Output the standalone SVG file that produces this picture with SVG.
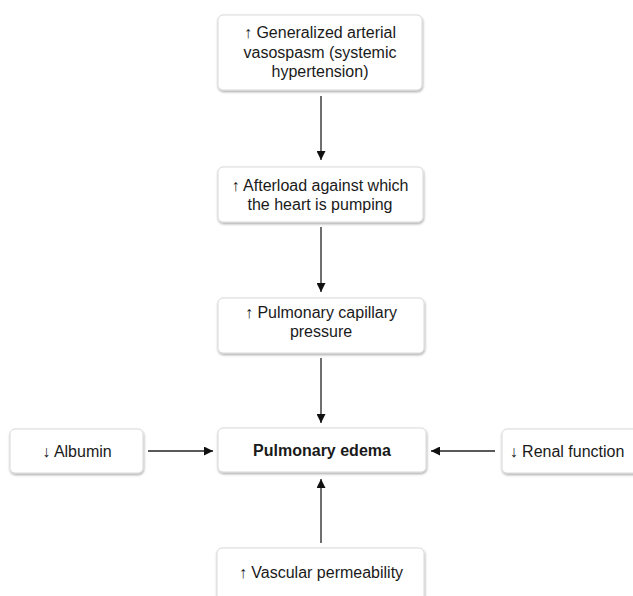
<svg xmlns="http://www.w3.org/2000/svg" width="633" height="596" viewBox="0 0 633 596">
  <style>
    .box { fill: #ffffff; stroke: #d9d9d9; stroke-width: 1; filter: url(#shadow); }
    .lbl { font-family: "Liberation Sans", Arial, Helvetica, sans-serif; font-size: 16px; fill: #1a1a1a; text-anchor: middle; }
    .bold { font-weight: bold; font-size: 16px; }
    .edge { stroke: #222222; stroke-width: 1.3; fill: none; marker-end: url(#head); }
  </style>
  <defs>
    <filter id="shadow" x="-10%" y="-20%" width="120%" height="150%">
      <feDropShadow dx="0.5" dy="1.5" stdDeviation="1.3" flood-color="#000000" flood-opacity="0.35"/>
    </filter>
    <marker id="head" viewBox="0 0 10 10" refX="10" refY="5" markerWidth="9" markerHeight="9" markerUnits="userSpaceOnUse" orient="auto">
      <path d="M0,0 L10,5 L0,10 z" fill="#111111"/>
    </marker>
  </defs>

  <rect width="633" height="596" fill="#ffffff"/>

  <!-- connectors -->
  <g id="connectors">
    <line class="edge" x1="321" y1="96" x2="321" y2="160"/>
    <line class="edge" x1="321" y1="227" x2="321" y2="292"/>
    <line class="edge" x1="321" y1="358" x2="321" y2="423"/>
    <line class="edge" x1="148" y1="451" x2="213" y2="451"/>
    <line class="edge" x1="495" y1="451" x2="431" y2="451"/>
    <line class="edge" x1="321" y1="543" x2="321" y2="479"/>
  </g>

  <g id="vasospasm">
    <rect class="box" x="218" y="15" width="204" height="75" rx="5"/>
    <text class="lbl" x="320" y="37.5">↑ Generalized arterial</text>
    <text class="lbl" x="320" y="57.5">vasospasm (systemic</text>
    <text class="lbl" x="320" y="77">hypertension)</text>
  </g>

  <g id="afterload">
    <rect class="box" x="218" y="167" width="205" height="55" rx="5"/>
    <text class="lbl" x="320" y="190.5">↑ Afterload against which</text>
    <text class="lbl" x="320" y="209.5">the heart is pumping</text>
  </g>

  <g id="capillary-pressure">
    <rect class="box" x="218" y="298" width="206" height="55" rx="5"/>
    <text class="lbl" x="321" y="318">↑ Pulmonary capillary</text>
    <text class="lbl" x="321" y="337">pressure</text>
  </g>

  <g id="edema">
    <rect class="box" x="218" y="428" width="208" height="44" rx="5"/>
    <text class="lbl bold" x="322" y="456">Pulmonary edema</text>
  </g>

  <g id="albumin">
    <rect class="box" x="10" y="429" width="133" height="44" rx="5"/>
    <text class="lbl" x="77" y="457">↓ Albumin</text>
  </g>

  <g id="renal">
    <rect class="box" x="502" y="429" width="140" height="44" rx="5"/>
    <text class="lbl" x="567" y="457">↓ Renal function</text>
  </g>

  <g id="permeability">
    <rect class="box" x="217" y="548" width="207" height="60" rx="5"/>
    <text class="lbl" x="321" y="577.5">↑ Vascular permeability</text>
  </g>
</svg>
